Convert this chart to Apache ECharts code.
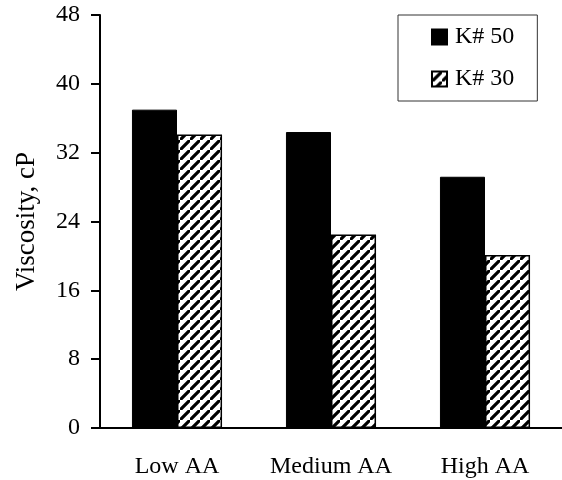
<!DOCTYPE html>
<html>
<head>
<meta charset="utf-8">
<script src="https://cdn.jsdelivr.net/npm/echarts@6/dist/echarts.min.js"></script>
<style>html,body{margin:0;padding:0;background:#fff;}#c{width:562px;height:480px;}</style>
</head>
<body>
<div id="c"></div>
<script>
var categories = ['Low AA', 'Medium AA', 'High AA'];
var k50 = [37.0, 34.4, 29.2];
var k30 = [34.1, 22.5, 20.1];
var seriesNames = ['K# 50', 'K# 30'];
var yTitle = 'Viscosity, cP';

function hatch() {
  var s = 10;
  var c = document.createElement('canvas');
  c.width = s; c.height = s;
  var g = c.getContext('2d');
  g.fillStyle = '#fff'; g.fillRect(0, 0, s, s);
  g.strokeStyle = '#000'; g.lineWidth = 3.2;
  g.beginPath();
  g.moveTo(-s, s * 2); g.lineTo(s * 2, -s);
  g.moveTo(-s * 2, s); g.lineTo(s, -s * 2);
  g.moveTo(0, s * 3); g.lineTo(s * 3, 0);
  g.stroke();
  return c;
}

var font = '"Liberation Serif", "Times New Roman", serif';
var chart = echarts.init(document.getElementById('c'));
chart.setOption({
  animation: false,
  backgroundColor: '#fff',
  textStyle: { fontFamily: font, color: '#000' },
  grid: { left: 100, top: 15, width: 466, height: 413 },
  legend: {
    orient: 'vertical',
    left: 398, top: 15,
    padding: [10, 23, 10, 33],
    borderColor: '#333', borderWidth: 1,
    itemWidth: 15, itemHeight: 15, itemGap: 18,
    icon: 'rect',
    textStyle: { fontFamily: font, fontSize: 24, color: '#000', lineHeight: 24, padding: [0, 0, 0, 3] },
    data: seriesNames
  },
  xAxis: {
    type: 'category',
    data: categories,
    axisLine: { lineStyle: { color: '#000', width: 2 } },
    axisTick: { length: 9, lineStyle: { color: '#000', width: 2 } },
    axisLabel: { interval: 0, hideOverlap: false, fontFamily: font, fontSize: 24, color: '#000', margin: 27 }
  },
  yAxis: {
    type: 'value',
    min: 0, max: 48, interval: 8,
    name: yTitle,
    nameLocation: 'middle',
    nameGap: 60,
    nameTextStyle: { fontFamily: font, fontSize: 27, color: '#000' },
    splitLine: { show: false },
    axisLine: { show: true, lineStyle: { color: '#000', width: 2 } },
    axisTick: { show: true, length: 9, lineStyle: { color: '#000', width: 2 } },
    axisLabel: { fontFamily: font, fontSize: 24, color: '#000', margin: 20 }
  },
  series: [
    {
      name: seriesNames[0], type: 'bar', data: k50,
      barGap: '0%', barCategoryGap: '41.5%',
      itemStyle: { color: '#000', borderColor: '#000', borderWidth: 1 }
    },
    {
      name: seriesNames[1], type: 'bar', data: k30,
      itemStyle: { color: { image: hatch(), repeat: 'repeat' }, borderColor: '#000', borderWidth: 1.5 }
    }
  ]
});
</script>
</body>
</html>
